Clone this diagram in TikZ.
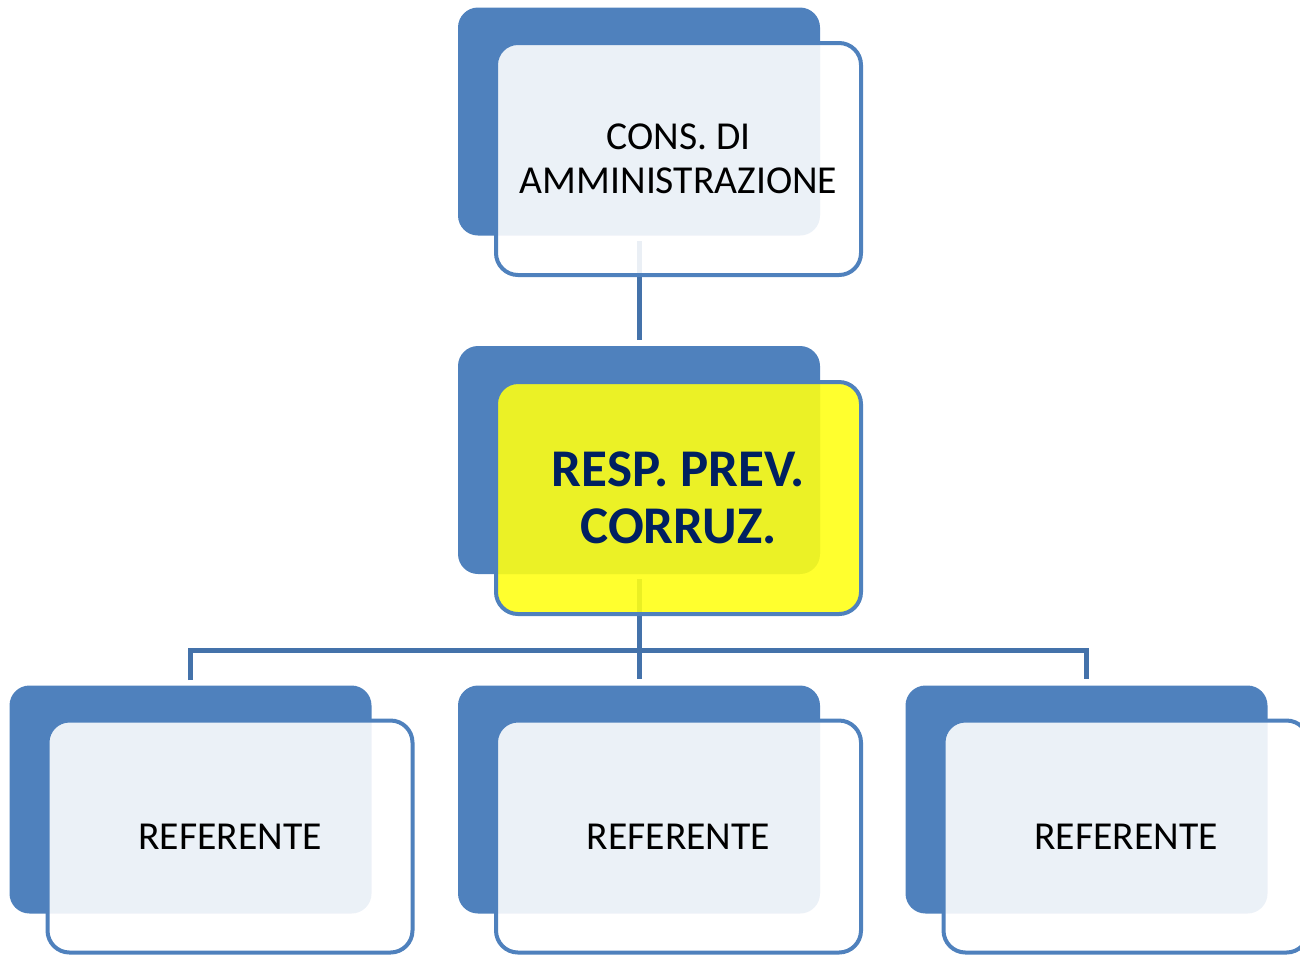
\documentclass[tikz,border=0pt]{standalone}
\usepackage{fontspec}
\setmainfont{Carlito}
\usepackage{tikz}
\definecolor{boxblue}{RGB}{79,129,189}
\definecolor{lineblue}{RGB}{68,114,170}
\definecolor{hiyellow}{RGB}{255,255,20}
\definecolor{navytext}{RGB}{0,32,96}

\begin{document}
\begin{tikzpicture}[x=0.5pt,y=-0.5pt,
    back/.style={fill=boxblue,rounded corners=10pt,minimum width=181pt,minimum height=114pt,inner sep=0pt},
    front/.style={draw=boxblue,line width=2pt,fill=white,fill opacity=0.89,text opacity=1,rounded corners=11pt,
        minimum width=182.5pt,minimum height=116pt,inner sep=0pt,align=center,font=\fontsize{19.8}{22}\selectfont},
    link/.style={draw=lineblue,line width=2.5pt,shorten <=2.5pt,shorten >=3pt}]
    \useasboundingbox (0,0) rectangle (1300,955);

    \node[back] (cdaback) at (639,121.5) {};
    \node[back] (rpcback) at (639,460) {};
    \node[back] (ref1back) at (190.5,799.5) {};
    \node[back] (ref2back) at (639,799.5) {};
    \node[back] (ref3back) at (1086.5,799.5) {};

    \coordinate (bus) at (639,650);
    \draw[link] (cdaback) -- (rpcback);
    \draw[link] (rpcback) -- (ref2back);
    \draw[link] (ref1back) |- (bus) -| (ref3back);

    \node[front] (cda) at ([shift={(39.5,37.5)}]cdaback) {CONS. DI\\AMMINISTRAZIONE};
    \node[front,fill=hiyellow,text=navytext,font=\bfseries\fontsize{26.5}{28.5}\selectfont]
        (rpc) at ([shift={(39.5,38)}]rpcback) {RESP. PREV.\\CORRUZ.};
    \node[front] (ref1) at ([shift={(39.5,37)}]ref1back) {REFERENTE};
    \node[front] (ref2) at ([shift={(39.5,37)}]ref2back) {REFERENTE};
    \node[front] (ref3) at ([shift={(39.5,37)}]ref3back) {REFERENTE};
\end{tikzpicture}
\end{document}
